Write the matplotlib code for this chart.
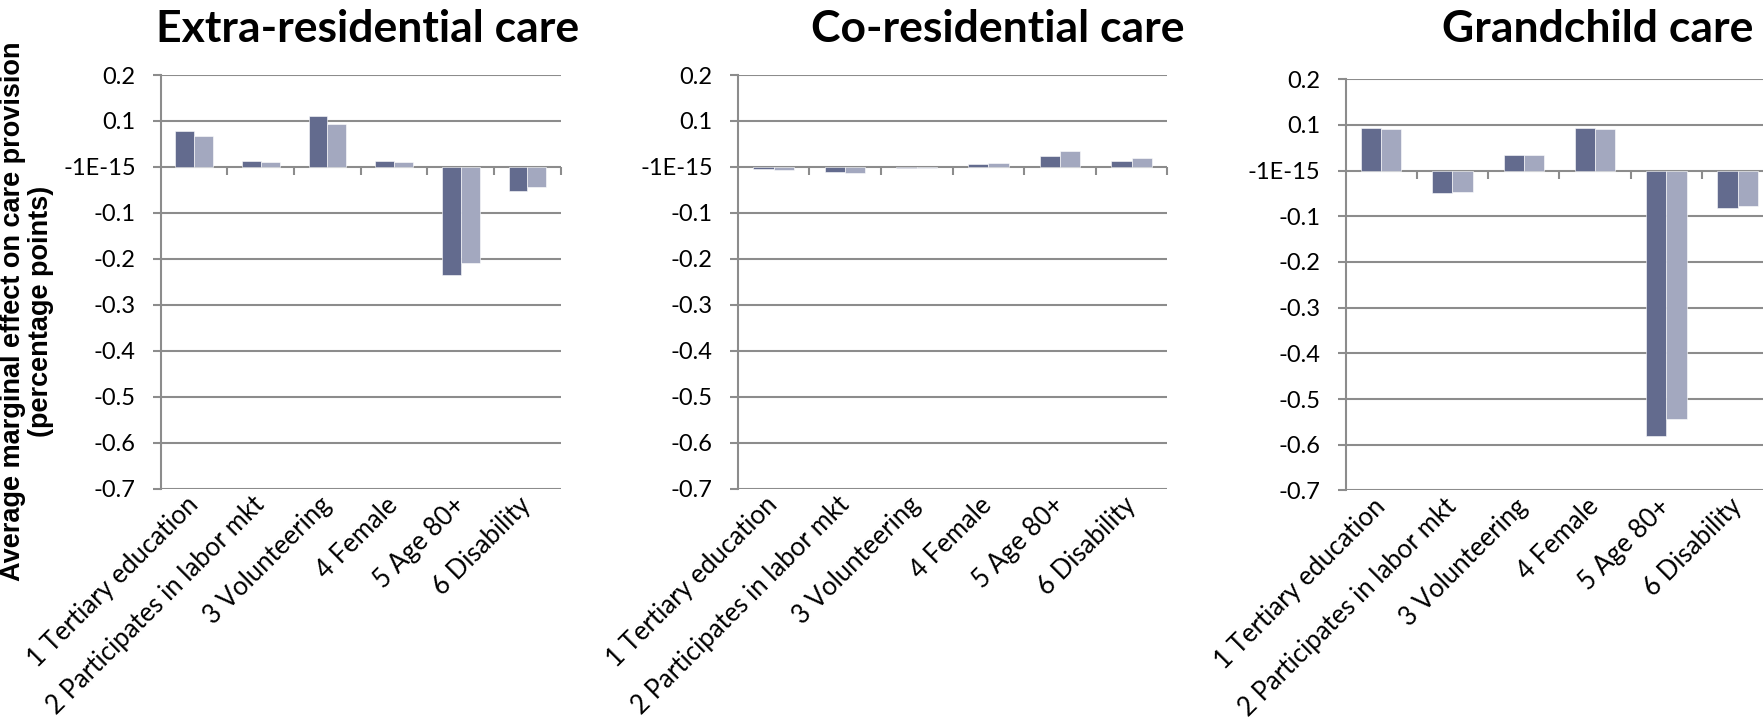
import matplotlib
matplotlib.use("Agg")
import numpy as np
import matplotlib.pyplot as plt

categories = ["1 Tertiary education", "2 Participates in labor mkt", "3 Volunteering",
              "4 Female", "5 Age 80+", "6 Disability"]
titles = ["Extra-residential care", "Co-residential care", "Grandchild care"]

extra_dark = [0.079, 0.012, 0.110, 0.013, -0.235, -0.053]
extra_light = [0.067, 0.010, 0.093, 0.011, -0.209, -0.044]
cores_dark = [-0.004, -0.010, -0.002, 0.006, 0.024, 0.013]
cores_light = [-0.006, -0.014, -0.003, 0.009, 0.034, 0.019]
grand_dark = [0.094, -0.050, 0.034, 0.093, -0.580, -0.082]
grand_light = [0.090, -0.047, 0.034, 0.090, -0.543, -0.077]

ytick_vals = [0.2, 0.1, 0.0, -0.1, -0.2, -0.3, -0.4, -0.5, -0.6, -0.7]
ytick_labels = ["0.2", "0.1", "-1E-15", "-0.1", "-0.2", "-0.3", "-0.4", "-0.5", "-0.6", "-0.7"]

panels = [(extra_dark, extra_light), (cores_dark, cores_light), (grand_dark, grand_light)]

DARK = "#636B8E"
LIGHT = "#A3A8BF"
GRID = "#8C8C8C"
W, H = 1763, 724

# axes boxes in pixels: left, right, top, bottom
boxes = [(160.7, 560.7, 75.0, 488.7),
         (737.7, 1167.3, 75.0, 488.7),
         (1345.5, 1773.3, 79.1, 490.4)]
# title centres in pixels
title_x = [368, 998, 1598]

fig = plt.figure(figsize=(W / 100, H / 100), dpi=100)
fig.patch.set_facecolor("white")

x = np.arange(len(categories))
bw = 0.283

for i, (dark, light) in enumerate(panels):
    l, r, t, b = boxes[i]
    ax = fig.add_axes([l / W, 1 - b / H, (r - l) / W, (b - t) / H])
    ax.bar(x - bw / 2, dark, bw, color=DARK, edgecolor="white", linewidth=0.4, zorder=3)
    ax.bar(x + bw / 2, light, bw, color=LIGHT, edgecolor="white", linewidth=0.4, zorder=3)
    ax.set_xlim(-0.5, 5.5)
    ax.set_ylim(-0.7, 0.2)

    ax.set_yticks(ytick_vals, ytick_labels)
    ax.yaxis.grid(True, color=GRID, linewidth=1.5, zorder=1)
    ax.set_axisbelow(True)
    ax.tick_params(axis="y", direction="out", length=6, width=1.5, color=GRID,
                   pad=12, labelsize=17)
    for lab in ax.get_yticklabels():
        lab.set_fontfamily("Lato")

    ax.set_xticks(x, categories)
    ax.tick_params(axis="x", length=0, pad=9, labelsize=18.5)
    for lab in ax.get_xticklabels():
        lab.set_rotation(45)
        lab.set_ha("right")
        lab.set_va("center")
        lab.set_rotation_mode("anchor")
        lab.set_fontfamily("Lato")

    for s in ["right", "top", "bottom"]:
        ax.spines[s].set_visible(False)
    ax.spines["left"].set_color(GRID)
    ax.spines["left"].set_linewidth(1.5)

    # category boundary ticks on the zero line
    sec = ax.secondary_xaxis(0, transform=ax.transData)
    sec.set_xticks(np.arange(0.5, 6.0, 1.0))
    sec.tick_params(direction="out", length=6, width=1.5, color=GRID, labelbottom=False)
    for s in sec.spines.values():
        s.set_visible(False)

    fig.text(title_x[i] / W, 1 - 42 / H, titles[i], ha="center", va="baseline",
             fontsize=32, fontweight="bold", family="Lato")

fig.text(27 / W, 1 - 311 / H,
         "Average marginal effect on care provision\n(percentage points)",
         rotation=90, ha="center", va="center", multialignment="center",
         fontsize=19.5, fontweight="bold", family="Liberation Sans", linespacing=1.1)

fig.savefig("out.png", dpi=100, facecolor="white")
